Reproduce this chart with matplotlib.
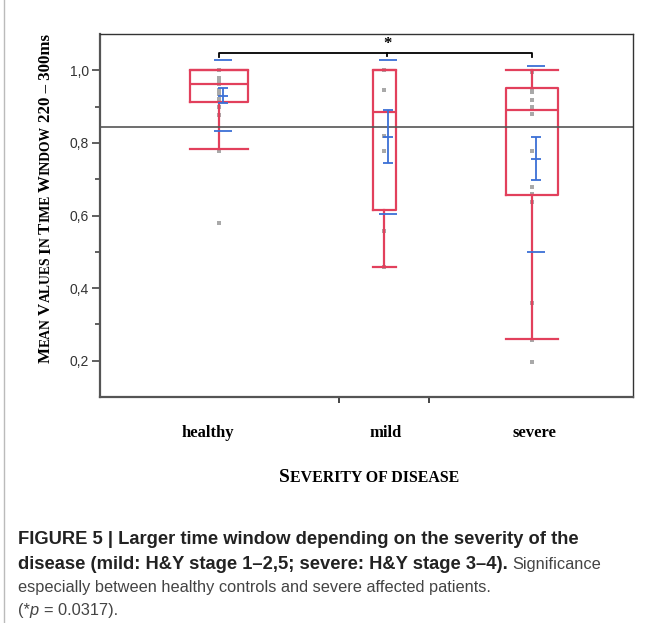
import matplotlib
matplotlib.use("Agg")
import matplotlib.pyplot as plt
from matplotlib.transforms import IdentityTransform

# values
groups = ["healthy", "mild", "severe"]
box_q1 = [0.913, 0.616, 0.656]
box_med = [0.961, 0.885, 0.892]
box_q3 = [1.000, 1.000, 0.952]
whisk_lo = [0.782, 0.459, 0.260]
whisk_hi = [1.000, 1.000, 1.000]
mean_vals = [0.929, 0.816, 0.755]
ci_lo = [0.909, 0.744, 0.697]
ci_hi = [0.952, 0.892, 0.816]
sd2_lo = [0.833, 0.604, 0.500]
sd2_hi = [1.028, 1.028, 1.013]
points = [
    [1.0, 0.979, 0.968, 0.961, 0.945, 0.936, 0.92, 0.899, 0.878, 0.777, 0.579],
    [1.0, 0.947, 0.818, 0.779, 0.558, 0.457],
    [0.996, 0.945, 0.94, 0.919, 0.899, 0.879, 0.777, 0.678, 0.66, 0.637,
     0.358, 0.257, 0.197],
]
ref_line = 0.845
y_ticks = [0.2, 0.4, 0.6, 0.8, 1.0]
y_ticklabels = ["0,2", "0,4", "0,6", "0,8", "1,0"]
y_minor = [0.3, 0.5, 0.7, 0.9]
star_text = "*"

# layout
pos = [0.223, 0.533, 0.8105]
label_pos = [0.203, 0.535, 0.816]
box_w = [0.110, 0.043, 0.098]
blue_dx = 0.0075
red = "#e2405c"
blue = "#3b6fd6"
H = 623

fig = plt.figure(figsize=(6.52, 6.23), dpi=100)
ax = fig.add_axes([100 / 652, 226 / H, 533 / 652, 363 / H])

stats = []
for i in range(len(groups)):
    stats.append(dict(med=box_med[i], q1=box_q1[i], q3=box_q3[i],
                      whislo=whisk_lo[i], whishi=whisk_hi[i], fliers=[]))
lp = dict(color=red, linewidth=1.6)
ax.bxp(stats, positions=pos, widths=box_w, capwidths=box_w, showfliers=False,
       boxprops=lp, medianprops=lp, whiskerprops=lp, capprops=lp,
       manage_ticks=False)

for i in range(len(groups)):
    ax.plot([pos[i]] * len(points[i]), points[i], "s", ms=2.2, color="#a9a9a9",
            mew=0, zorder=1)

bx = [p + blue_dx for p in pos]
ax.errorbar(bx, mean_vals,
            yerr=[[m - l for m, l in zip(mean_vals, ci_lo)],
                  [h - m for m, h in zip(mean_vals, ci_hi)]],
            fmt="none", ecolor=blue, elinewidth=1.3, capsize=3.6, capthick=1.3,
            zorder=4)
ax.plot(bx, mean_vals, ls="none", marker="_", ms=7.5, mew=1.3, color=blue, zorder=4)
ax.hlines(sd2_lo, [x - 0.017 for x in bx], [x + 0.017 for x in bx], color=blue, lw=1.3, zorder=4)
ax.hlines(sd2_hi, [x - 0.017 for x in bx], [x + 0.017 for x in bx], color=blue, lw=1.3, zorder=4)

ax.axhline(ref_line, color="#555555", lw=1.2, zorder=2)

# significance bracket
ax.plot([pos[0], pos[0], pos[2], pos[2]], [1.037, 1.048, 1.048, 1.037],
        color="black", lw=1.3, clip_on=False)
ax.plot([0.5385, 0.5385], [1.048, 1.039], color="black", lw=1.3)
ax.text(0.5385, 1.072, star_text, ha="center", va="center", fontsize=12,
        fontweight="bold", family="Liberation Serif")

ax.set_xlim(0, 1)
ax.set_ylim(0.1, 1.1)
ax.set_yticks(y_ticks)
ax.set_yticklabels(y_ticklabels, family="Liberation Sans", fontsize=10, color="#333333")
ax.set_yticks(y_minor, minor=True)
ax.set_xticks([0.448, 0.617])
ax.set_xticklabels([])
ax.tick_params(axis="y", which="major", length=6, width=1.2, color="#444444", pad=2)
ax.tick_params(axis="y", which="minor", length=3.5, width=1.2, color="#444444")
ax.tick_params(axis="x", length=4, width=1.4, color="#444444")
for s in ["left", "bottom"]:
    ax.spines[s].set_color("#555555")
    ax.spines[s].set_linewidth(1.6)
for s in ["top", "right"]:
    ax.spines[s].set_color("#333333")
    ax.spines[s].set_linewidth(1.0)

for i, g in enumerate(groups):
    ax.text(label_pos[i], -0.1, g, transform=ax.transAxes, ha="center",
            va="center", family="Liberation Serif", fontweight="bold", fontsize=12)


def run_text(x, y, runs, rotation=0, ha="left"):
    r = fig.canvas.get_renderer()

    def width(s, kw):
        t = fig.text(0, 0, s, transform=IdentityTransform(), **kw)
        w = t.get_window_extent(r).width
        t.remove()
        return w

    arts, lens = [], []
    for s, kw in runs:
        lead = len(s) - len(s.lstrip(" "))
        trail = len(s) - len(s.rstrip(" "))
        core = s.strip(" ")
        sp = width("a a", kw) - width("aa", kw) if (lead or trail) else 0
        t = fig.text(0, 0, core, transform=IdentityTransform(), ha="left",
                     va="baseline", rotation_mode="anchor", **kw)
        w = t.get_window_extent(r).width
        arts.append((t, lead * sp))
        lens.append(lead * sp + w + trail * sp)
    total = sum(lens)
    start = x if rotation == 0 else y
    if ha == "center":
        start -= total / 2
    for (t, off), L in zip(arts, lens):
        if rotation == 0:
            t.set_position((start + off, y))
        else:
            t.set_position((x, start + off))
            t.set_rotation(rotation)
        start += L


xbig = dict(family="Liberation Serif", fontweight="bold", fontsize=14)
xsmall = dict(family="Liberation Serif", fontweight="bold", fontsize=11.4)
ybig = dict(family="Liberation Serif", fontweight="bold", fontsize=12.2)
ysmall = dict(family="Liberation Serif", fontweight="bold", fontsize=9.8)

run_text(369, H - 482, [("S", xbig), ("EVERITY OF DISEASE", xsmall)], ha="center")
run_text(50, H - 363, [("M", ybig), ("EAN ", ysmall), ("V", ybig), ("ALUES ", ysmall),
                       ("I", ybig), ("N ", ysmall), ("T", ybig), ("IME ", ysmall),
                       ("W", ybig), ("INDOW ", ysmall), ("220 – 300ms", ybig)],
         rotation=90)

bold = dict(family="Liberation Sans", fontweight="bold", fontsize=13.2, color="#222222")
reg = dict(family="Liberation Sans", fontsize=11.8, color="#444444")
ital = dict(family="Liberation Sans", fontsize=11.8, color="#444444", style="italic")
run_text(18, H - 544, [("FIGURE 5 | Larger time window depending on the severity of the", bold)])
run_text(18, H - 569, [("disease (mild: H&Y stage 1–2,5; severe: H&Y stage 3–4).", bold),
                       (" Significance", reg)])
run_text(18, H - 592, [("especially between healthy controls and severe affected patients.", reg)])
run_text(18, H - 615, [("(*", reg), ("p", ital), (" = 0.0317).", reg)])

fig.add_artist(plt.Line2D([4 / 652, 4 / 652], [0, 1], color="#bbbbbb", lw=1.0))

fig.savefig("out.png", dpi=100)
